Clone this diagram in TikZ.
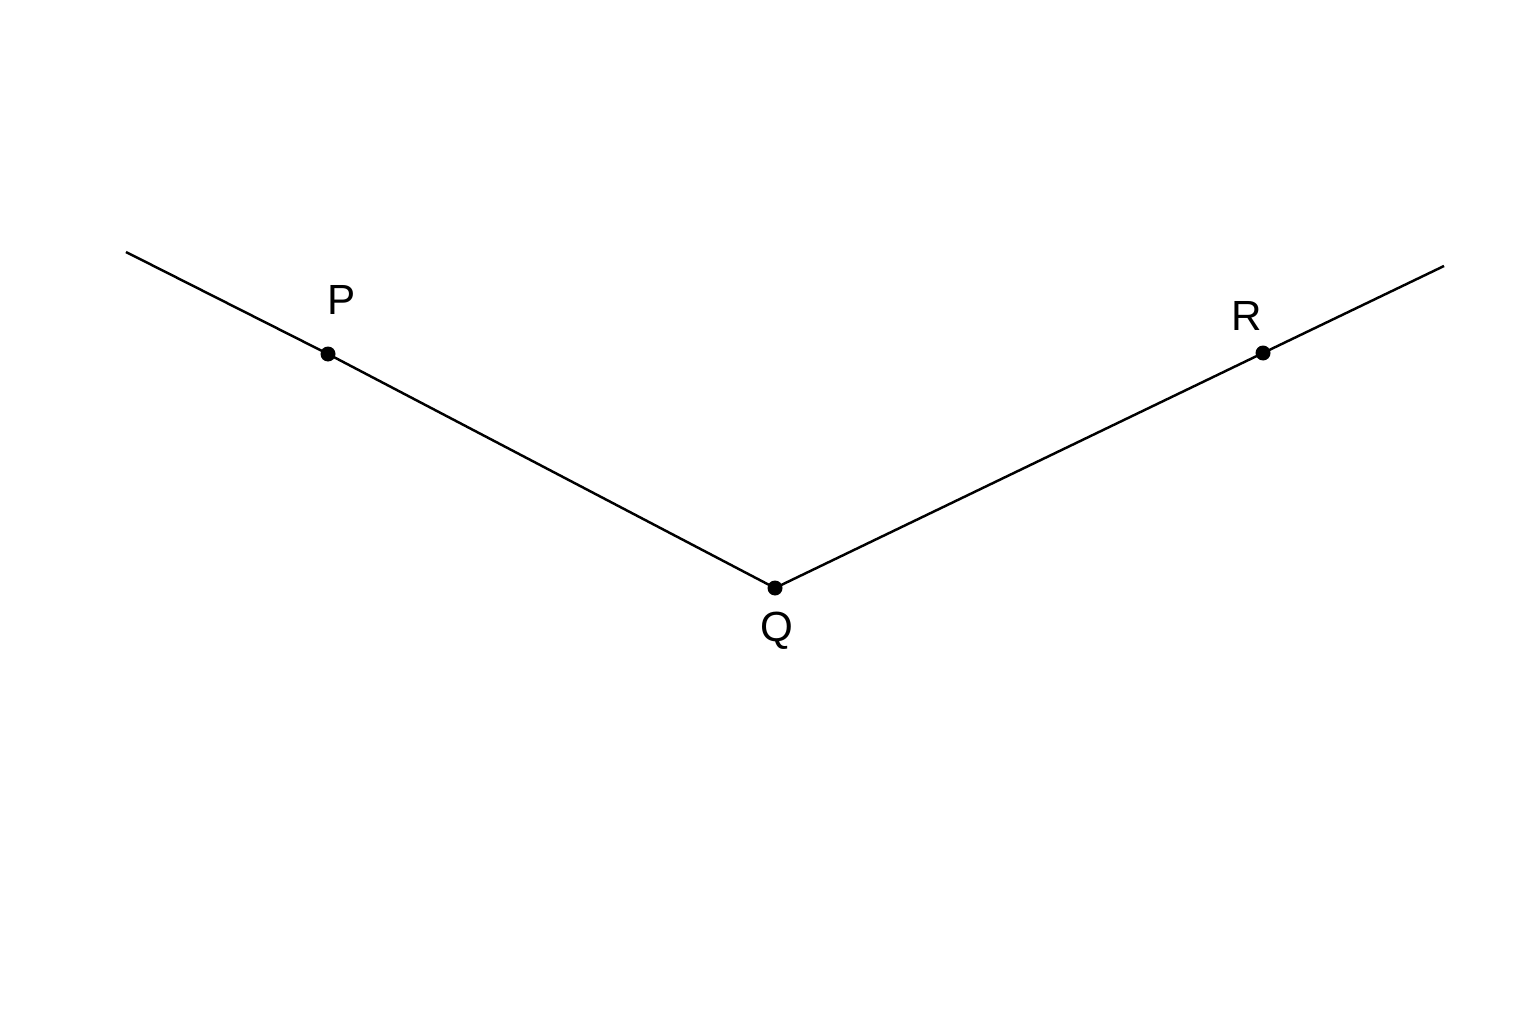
\documentclass[tikz,border=0pt]{standalone}
\usepackage{fontspec}
\setmainfont{Liberation Sans}
\tikzset{
  ptdot/.style={circle, fill=black, inner sep=0pt, minimum size=0.15cm},
  ptlabel/.style={font=\fontsize{12}{14}\selectfont}
}
\begin{document}
\begin{tikzpicture}
  \useasboundingbox (0,0) rectangle (15.36,10.24);
  % the bent line
  \coordinate (endL) at (1.26, 7.72);
  \coordinate (endR) at (14.44, 7.58);
  \node[ptdot] (P) at (3.28, 6.70) {};
  \node[ptdot] (Q) at (7.75, 4.36) {};
  \node[ptdot] (R) at (12.63, 6.71) {};
  \draw[line width=0.7pt] (endL) -- (P.center) -- (Q.center) -- (R.center) -- (endR);

  % labels
  \node[ptlabel] (labP) at (3.42, 7.24) {P};
  \node[ptlabel] (labQ) at (7.77, 3.93) {Q};
  \node[ptlabel] (labR) at (12.47, 7.08) {R};
\end{tikzpicture}
\end{document}
